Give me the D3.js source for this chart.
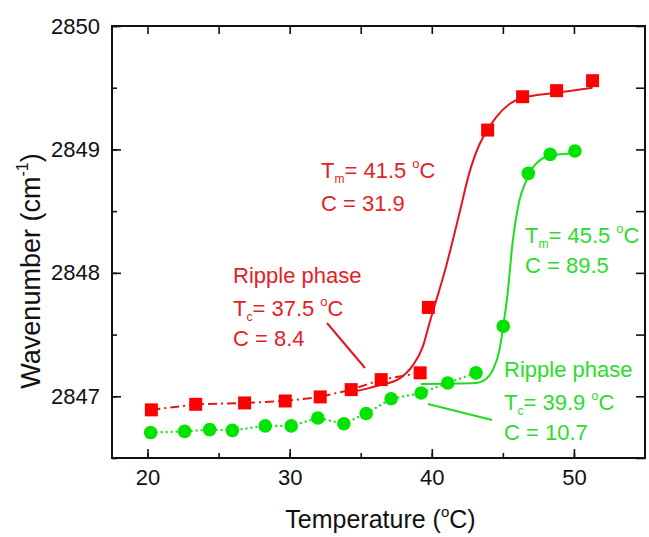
<!DOCTYPE html>
<html>
<head>
<meta charset="utf-8">
<script src="https://cdn.jsdelivr.net/npm/d3@7"></script>
<style>
  body { margin: 0; background: #fff; }
  svg text { font-family: "Liberation Sans", Arial, sans-serif; }
</style>
</head>
<body>
<div id="container"></div>
<script>
// measured points (temperature in C, wavenumber in cm-1)
const tempRed = [20.27, 23.39, 26.83, 29.69, 32.15, 34.33, 36.44, 39.18, 39.76, 43.93, 46.39, 48.78, 51.31];
const waveRed = [2846.89, 2846.935, 2846.946, 2846.962, 2846.995, 2847.054, 2847.135, 2847.19, 2847.72, 2849.157, 2849.427, 2849.476, 2849.557];
const tempGreen = [20.22, 22.61, 24.37, 25.97, 28.28, 30.11, 31.98, 33.81, 35.38, 37.14, 39.25, 41.12, 43.11, 45.03, 46.79, 48.33, 50.07];
const waveGreen = [2846.706, 2846.716, 2846.73, 2846.724, 2846.76, 2846.76, 2846.824, 2846.778, 2846.86, 2846.98, 2847.027, 2847.108, 2847.19, 2847.568, 2848.806, 2848.96, 2848.987];

// how many of the first points belong to the ripple phase (dashed / dotted)
const rippleRedCount = 8;
const rippleGreenCount = 13;

// fitted curves
const fitRedT = [34.42, 35.38, 36.32, 37.72, 38.66, 39.36, 39.83, 41.0, 41.94, 42.64, 43.35, 43.93, 44.52, 45.49, 46.43, 48.8, 51.31];
const fitRedW = [2847.036, 2847.06, 2847.089, 2847.143, 2847.25, 2847.40, 2847.59, 2848.05, 2848.48, 2848.81, 2849.04, 2849.16, 2849.26, 2849.37, 2849.42, 2849.46, 2849.50];
const fitGreenT = [39.25, 43.11, 43.82, 44.28, 44.75, 45.03, 45.33, 45.68, 46.15, 46.62, 47.09, 48.33, 50.07];
const fitGreenW = [2847.10, 2847.108, 2847.14, 2847.21, 2847.37, 2847.57, 2847.83, 2848.24, 2848.58, 2848.74, 2848.85, 2848.95, 2848.97];

const xTicks = [20, 30, 40, 50];
const yTicks = [2847, 2848, 2849, 2850];

const width = 649, height = 537;
const margin = { top: 26, right: 4, bottom: 79, left: 112 };

const red = "#ff0000", redLine = "#e8141c", redText = "#e41e26";
const green = "#00e400", greenLine = "#1fdc1f", greenText = "#2cdc2c";

const svg = d3.select("#container").append("svg")
    .attr("width", width)
    .attr("height", height);

const x = d3.scaleLinear().domain([17.5, 55]).range([margin.left, width - margin.right]);
const y = d3.scaleLinear().domain([2846.5, 2850]).range([height - margin.bottom, margin.top]);

const zip = (a, b) => a.map((v, i) => [v, b[i]]);
const redPts = zip(tempRed, waveRed);
const greenPts = zip(tempGreen, waveGreen);

// axes, ticks inside
const minorX = d3.range(20, 55, 5);
const minorY = d3.range(2846.5, 2850.01, 0.5);

svg.append("g")
    .attr("transform", `translate(0,${y.range()[0]})`)
    .call(d3.axisBottom(x).tickValues(minorX).tickSizeInner(-5).tickSizeOuter(0).tickFormat(() => ""));
svg.append("g")
    .attr("transform", `translate(0,${y.range()[0]})`)
    .call(d3.axisBottom(x).tickValues(xTicks).tickSizeInner(-9).tickSizeOuter(0).tickPadding(11))
    .call(g => g.selectAll("text").attr("font-size", 22).attr("fill", "#111").attr("font-family", "Liberation Sans, Arial"));
svg.append("g")
    .attr("transform", `translate(${x.range()[0]},0)`)
    .call(d3.axisLeft(y).tickValues(minorY).tickSizeInner(-5).tickSizeOuter(0).tickFormat(() => ""));
svg.append("g")
    .attr("transform", `translate(${x.range()[0]},0)`)
    .call(d3.axisLeft(y).tickValues(yTicks).tickSizeInner(-9).tickSizeOuter(0).tickPadding(12).tickFormat(d3.format("d")))
    .call(g => g.selectAll("text").attr("font-size", 22).attr("fill", "#111").attr("font-family", "Liberation Sans, Arial"));
svg.append("g")
    .attr("transform", `translate(0,${y.range()[1]})`)
    .call(d3.axisTop(x).tickValues(minorX).tickSizeInner(-8).tickSizeOuter(0).tickFormat(() => ""));
svg.append("g")
    .attr("transform", `translate(${x.range()[1]},0)`)
    .call(d3.axisRight(y).tickValues(minorY).tickSizeInner(-9).tickSizeOuter(0).tickFormat(() => ""));

svg.selectAll(".domain").remove();
svg.selectAll(".tick line").attr("stroke", "#111").attr("stroke-width", 1.6);

svg.append("rect")
    .attr("x", x.range()[0]).attr("y", y.range()[1])
    .attr("width", x.range()[1] - x.range()[0])
    .attr("height", y.range()[0] - y.range()[1])
    .attr("fill", "none").attr("stroke", "#111").attr("stroke-width", 2);

// axis titles
const xt = svg.append("text")
    .attr("x", (x.range()[0] + x.range()[1]) / 2 + 2).attr("y", 528)
    .attr("text-anchor", "middle").attr("font-size", 25).attr("fill", "#111");
xt.append("tspan").text("Temperature (");
xt.append("tspan").text("o").attr("font-size", 15).attr("dy", -11);
xt.append("tspan").text("C)").attr("dy", 11);

const yt = svg.append("text")
    .attr("transform", `translate(40,271) rotate(-90)`)
    .attr("text-anchor", "middle").attr("font-size", 27).attr("fill", "#111");
yt.append("tspan").text("Wavenumber (cm");
yt.append("tspan").text("-1").attr("font-size", 16).attr("dy", -12);
yt.append("tspan").text(")").attr("dy", 12);

// lines
const line = d3.line().x(d => x(d[0])).y(d => y(d[1]));
const smooth = d3.line().x(d => x(d[0])).y(d => y(d[1])).curve(d3.curveMonotoneX);

svg.append("path")
    .attr("d", line(redPts.slice(0, rippleRedCount)))
    .attr("fill", "none").attr("stroke", redLine).attr("stroke-width", 2)
    .attr("stroke-dasharray", "9,4,2,4");
svg.append("path")
    .attr("d", line(greenPts.slice(0, rippleGreenCount)))
    .attr("fill", "none").attr("stroke", greenLine).attr("stroke-width", 2.2)
    .attr("stroke-dasharray", "2,3");

svg.append("path")
    .attr("d", smooth(zip(fitRedT, fitRedW)))
    .attr("fill", "none").attr("stroke", redLine).attr("stroke-width", 2);
svg.append("path")
    .attr("d", smooth(zip(fitGreenT, fitGreenW)))
    .attr("fill", "none").attr("stroke", greenLine).attr("stroke-width", 2);

// markers
svg.append("g").selectAll("rect").data(redPts).join("rect")
    .attr("x", d => x(d[0]) - 6.5).attr("y", d => y(d[1]) - 6.5)
    .attr("width", 13).attr("height", 13)
    .attr("fill", red);
svg.append("g").selectAll("circle").data(greenPts).join("circle")
    .attr("cx", d => x(d[0])).attr("cy", d => y(d[1])).attr("r", 6.8)
    .attr("fill", green);

// annotation lines
svg.append("line").attr("x1", 327).attr("y1", 323).attr("x2", 365).attr("y2", 368)
    .attr("stroke", redLine).attr("stroke-width", 2);
svg.append("line").attr("x1", 492).attr("y1", 420).attr("x2", 428).attr("y2", 404)
    .attr("stroke", greenLine).attr("stroke-width", 2);

// annotation text helpers
function tLabel(px, py, sub, value, color) {
    const t = svg.append("text").attr("x", px).attr("y", py)
        .attr("font-size", 22).attr("fill", color);
    t.append("tspan").text("T");
    t.append("tspan").text(sub).attr("font-size", 12).attr("dy", 5);
    t.append("tspan").text("= " + value + " ").attr("dy", -5);
    t.append("tspan").text("o").attr("font-size", 13).attr("dy", -10);
    t.append("tspan").text("C").attr("dy", 10);
}
function plain(px, py, txt, color) {
    svg.append("text").attr("x", px).attr("y", py)
        .attr("font-size", 22).attr("fill", color).text(txt);
}

tLabel(321, 178, "m", "41.5", redText);
plain(321, 211, "C = 31.9", redText);

plain(233, 283, "Ripple phase", redText);
tLabel(233, 316, "c", "37.5", redText);
plain(233, 346, "C = 8.4", redText);

tLabel(525, 243, "m", "45.5", greenText);
plain(525, 273, "C = 89.5", greenText);

plain(504, 377, "Ripple phase", greenText);
tLabel(504, 410, "c", "39.9", greenText);
plain(504, 440, "C = 10.7", greenText);
</script>
</body>
</html>
